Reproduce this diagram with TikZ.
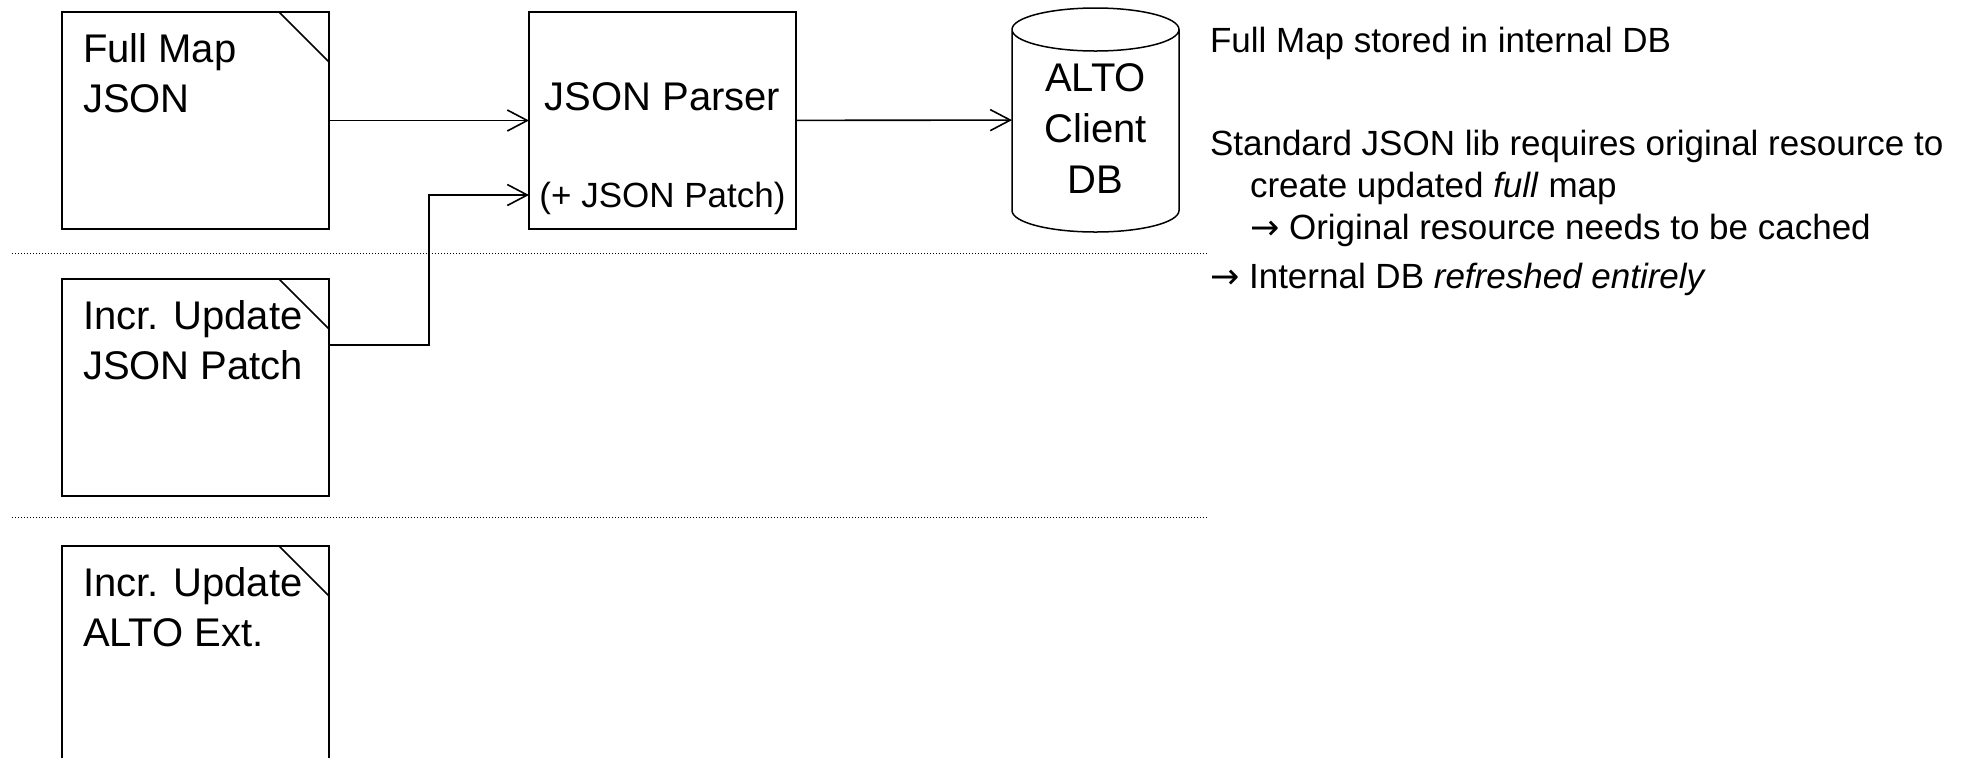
\documentclass[tikz,border=0pt]{standalone}
\usepackage{fontspec}
\setmainfont{Liberation Sans}
\newfontfamily\arrowfont{DejaVu Sans}
\usepackage{tikz}
\usetikzlibrary{arrows.meta}
\usetikzlibrary{positioning}
\usetikzlibrary{calc}
\newcommand{\docnode}[3]{\node(#1)[doc,#2]{}; \draw[fold] ([xshift=-25pt]#1.north east) -- ([yshift=-25pt]#1.north east); \node(#1text)[boxtext] at ([xshift=10.5pt,yshift=-50pt]#1.north west){#3}}
\newcommand{\note}[3]{\node(#1)[note] at (#2){#3}}
\newcommand{\impl}{{\arrowfont →}}

\begin{document}
\begin{tikzpicture}[
        x=0.5pt, y=-0.5pt,
        every node/.style={inner sep=0pt, outer sep=0pt},
        doc/.style={rectangle, draw=black, line width=1pt,
                    minimum width=133.5pt, minimum height=108.5pt},
        fold/.style={line width=0.8pt},
        boxtext/.style={font=\fontsize{20}{25}\selectfont, align=left, anchor=base west},
        small/.style={font=\fontsize{17.5}{21}\selectfont},
        dbase/.style={rectangle, minimum width=83.5pt, minimum height=90.5pt},
        dbline/.style={line width=0.75pt},
        note/.style={font=\fontsize{17.5}{21}\selectfont, align=left, anchor=base west},
        conn/.style={line width=0.8pt, -{Straight Barb[length=10pt, width=10.5pt]}},
        sep/.style={line width=0.5pt, dash pattern=on 0.5pt off 1pt}
      ]
      \useasboundingbox (0,0) rectangle (1969,757);
      \clip (0,0) rectangle (1969,757);

      \node(fullmap)[doc] at (195.5,120.5) {};
      \draw[fold] ([xshift=-25pt]fullmap.north east) -- ([yshift=-25pt]fullmap.north east);
      \node(fullmaptext)[boxtext] at ([xshift=10.5pt,yshift=-50pt]fullmap.north west) {Full Map\\JSON};
      \docnode{patch}{below=25pt of fullmap}{Incr. Update\\JSON Patch};
      \docnode{altoext}{below=25pt of patch}{Incr. Update\\ALTO Ext.};

      \node(parser)[doc, right=100pt of fullmap] {};
      \node(parsertext)[boxtext, anchor=base] at ([yshift=5.25pt]parser.center) {JSON Parser};
      \node(patchtext)[small, anchor=base] at ([yshift=-43.25pt]parser.center) {(+ JSON Patch)};

      \node(db)[dbase] at (1095.5,120) {};
      \draw[dbline] (db.north west) -- (db.south west)
        arc[start angle=180, end angle=360, x radius=41.75pt, y radius=10.75pt]
        -- (db.north east)
        arc[start angle=0, end angle=180, x radius=41.75pt, y radius=10.75pt]
        arc[start angle=180, end angle=360, x radius=41.75pt, y radius=10.75pt];
      \node(dbtext)[boxtext, align=center, anchor=center, font=\fontsize{20}{25.5}\selectfont]
        at ([yshift=-4.5pt]db.center) {ALTO\\Client\\DB};

      \draw[conn] (fullmap) -- (parser);
      \draw[conn] ([yshift=-33pt]patch.north east) -- ++(100,0) |- ([yshift=-37.25pt]parser.west);
      \draw[conn] (parser) -- (db);

      \draw[sep] (12,253.5) -- (1208,253.5);
      \draw[sep] (12,517.5) -- (1208,517.5);

      \note{storenote}{1210,52}{Full Map stored in internal DB};
      \note{libnote}{1210,239}{Standard JSON lib requires original resource to\\
        \hspace*{20pt}create updated \textit{full} map\\
        \hspace*{20pt}\impl\ Original resource needs to be cached};
      \note{refreshnote}{1210,288}{\impl\ Internal DB \textit{refreshed entirely}};
    \end{tikzpicture}
\end{document}
